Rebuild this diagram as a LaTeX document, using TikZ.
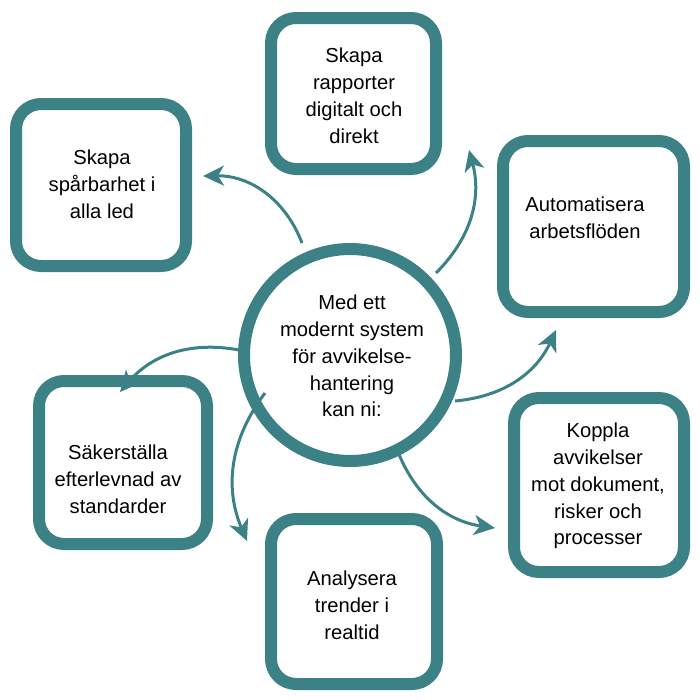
\documentclass[tikz,border=0pt]{standalone}
\usepackage{fontspec}
\setmainfont{Liberation Sans}
\usetikzlibrary{arrows.meta}
\definecolor{teal1}{HTML}{3B8186}
\begin{document}
\begin{tikzpicture}[x=0.02cm,y=-0.02cm,
 box/.style={draw=teal1,line width=12*0.02cm,rounded corners=0.5cm,fill=white,minimum width=0,inner sep=0},
 txt/.style={align=center,font=\fontsize{11.5}{15.3}\selectfont},
 arr/.style={draw=teal1,line width=3*0.02cm,-{Stealth[length=0.42cm,width=0.4cm,inset=0.12cm]}}]
\useasboundingbox (0,0) rectangle (700,700);
\draw[box] (271,18) rectangle (436,169);
\draw[box] (16,104) rectangle (186,266);
\draw[box] (503,141) rectangle (684,312);
\draw[box] (39,381) rectangle (207,544);
\draw[box] (271,519) rectangle (437,684);
\draw[box] (514,398) rectangle (684,572);
\node[txt] (t1) at (354,96) {Skapa\\rapporter\\digitalt och\\direkt};
\node[txt] (t2) at (102,184) {Skapa\\spårbarhet i\\alla led};
\node[txt] (t3) at (585,218) {Automatisera\\arbetsflöden};
\node[txt] (t4) at (118,479) {Säkerställa\\efterlevnad av\\standarder};
\node[txt] (t5) at (352,605) {Analysera\\trender i\\realtid};
\node[txt] (t6) at (598,486) {Koppla\\avvikelser\\mot dokument,\\risker och\\processer};
\draw[teal1,line width=12*0.02cm,fill=white] (350,355) circle (106);
\node[txt] (c) at (352,356) {Med ett\\modernt system\\för avvikelse-\\hantering\\kan ni:};
\coordinate (a1s) at (302,243); \coordinate (a1e) at (203,176);
\coordinate (a2s) at (436,273); \coordinate (a2e) at (469,150);
\coordinate (a3s) at (455,401); \coordinate (a3e) at (556,330);
\coordinate (a4s) at (239,350); \coordinate (a4e) at (120,392);
\coordinate (a5s) at (265,393); \coordinate (a5e) at (247,541);
\coordinate (a6s) at (398,452); \coordinate (a6e) at (495,528);
\draw[arr] (a1s) to[bend right=35] (a1e);
\draw[arr] (a2s) to[bend right=30] (a2e);
\draw[arr] (a3s) to[bend right=30] (a3e);
\draw[arr] (a4s) to[bend right=30] (a4e);
\draw[arr] (a5s) to[bend right=30] (a5e);
\draw[arr] (a6s) to[bend right=30] (a6e);
\end{tikzpicture}
\end{document}
